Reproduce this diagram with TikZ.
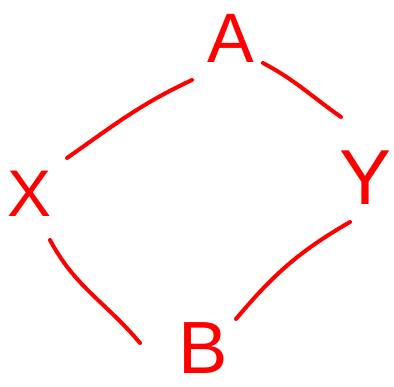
\documentclass[tikz,border=0pt]{standalone}
\usepackage{fontspec}
\setmainfont{Liberation Sans}
\begin{document}
\begin{tikzpicture}[x=1pt,y=1pt,
  lbl/.style={text=red, inner sep=0pt, font=\fontsize{#1}{#1}\selectfont},
  edge/.style={draw=red, line width=4pt, line cap=round}]
\useasboundingbox (0,0) rectangle (394,-386);
\node[lbl=70] (A) at (231,-38) {A};
\node[lbl=66] (X) at (30,-194) {X};
\node[lbl=78] (Y) at (366,-178) {Y};
\node[lbl=74] (B) at (203,-348) {B};
\draw[edge] ([shift={(37,36)}]X.center) to[out=35,in=205] ([shift={(-39,-42)}]A.center);
\draw[edge] ([shift={(32,-25)}]A.center) to[out=-28,in=145] ([shift={(-25,61)}]Y.center);
\draw[edge] ([shift={(-16,-44)}]Y.center) to[out=210,in=50] ([shift={(33,29)}]B.center);
\draw[edge] ([shift={(20,-46)}]X.center) to[out=-62,in=130] ([shift={(-63,5)}]B.center);
\end{tikzpicture}
\end{document}
